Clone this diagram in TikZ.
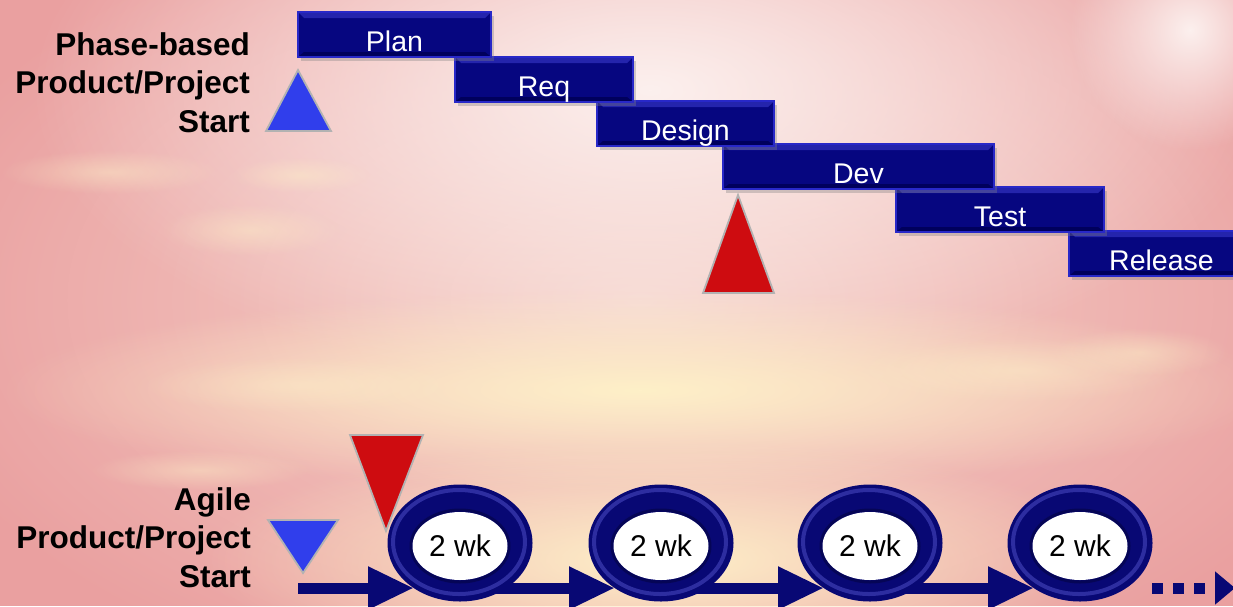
\documentclass[tikz,border=0pt]{standalone}
\usepackage{fontspec}
\setmainfont{Liberation Sans}
\usetikzlibrary{arrows.meta,shapes.geometric,shadows,fadings,backgrounds}

\definecolor{skybase}{RGB}{234,160,160}
\definecolor{skylight}{RGB}{252,240,238}
\definecolor{skycream}{RGB}{254,240,200}
\definecolor{skypeach}{RGB}{246,212,204}
\definecolor{barnavy}{RGB}{6,6,128}
\definecolor{baredge}{RGB}{40,40,200}
\definecolor{barlight}{RGB}{36,36,172}
\definecolor{bardark}{RGB}{0,0,92}
\definecolor{ringnavy}{RGB}{8,8,116}
\definecolor{ringhi}{RGB}{70,70,190}
\definecolor{markblue}{RGB}{48,62,236}
\definecolor{markred}{RGB}{206,12,16}

\tikzfading[name=glow, inner color=transparent!0, outer color=transparent!100]

\begin{document}
\begin{tikzpicture}
      [ x=1pt, y=-1pt,
        phase/.style={rectangle, fill=barnavy, draw=baredge, line width=2pt,
          inner sep=0pt, minimum height=45pt, text height=34pt, text depth=0pt,
          text=white, font=\fontsize{28.5}{34}\selectfont,
          drop shadow={shadow xshift=3pt, shadow yshift=-4pt, opacity=.35},
          path picture={
            \fill[barlight] (path picture bounding box.north west)
              -- (path picture bounding box.north east)
              -- ([xshift=-6pt,yshift=-6pt]path picture bounding box.north east)
              -- ([xshift=6pt,yshift=-6pt]path picture bounding box.north west) -- cycle;
            \fill[bardark] (path picture bounding box.south west)
              -- (path picture bounding box.south east)
              -- ([xshift=-6pt,yshift=5pt]path picture bounding box.south east)
              -- ([xshift=6pt,yshift=5pt]path picture bounding box.south west) -- cycle;
          }},
        wkring/.style={ellipse, fill=ringnavy, inner sep=0pt, outer sep=0pt,
          minimum width=145pt, minimum height=117pt,
          text height=27pt, text depth=0pt, font=\fontsize{30}{36}\selectfont,
          path picture={
            \draw[ringhi, line width=4pt, opacity=.6]
              ([xshift=-1pt,yshift=1pt]path picture bounding box.center)
              ellipse [x radius=66pt, y radius=52pt];
            \draw[black, line width=3pt, opacity=.25]
              ([yshift=-3pt]path picture bounding box.center)
              ellipse [x radius=49pt, y radius=36pt];
            \fill[white] ([yshift=-3pt]path picture bounding box.center)
              ellipse [x radius=47.5pt, y radius=34pt];
          }},
        milestone/.style={draw=black!30, line width=1.8pt, line join=miter},
        sidelbl/.style={align=right, inner sep=0pt,
          font=\fontsize{31.5}{38.5}\selectfont\bfseries},
        flow/.style={draw=ringnavy, line width=11pt,
          -{Triangle[length=46pt,width=40pt]}},
        cloud/.style={skycream, path fading=glow, opacity=.45}
      ]
      \useasboundingbox (0,0) rectangle (1233,606);

      % evening sky
      \begin{scope}[on background layer]
        \fill[skybase] (0,0) rectangle (1233,606);
        \fill[skypeach, path fading=glow] (640,300) ellipse [x radius=760pt, y radius=420pt];
        \fill[skylight, path fading=glow] (650,90) ellipse [x radius=620pt, y radius=300pt];
        \fill[skycream, path fading=glow] (640,390) ellipse [x radius=640pt, y radius=100pt];
        \fill[skycream, path fading=glow] (660,560) ellipse [x radius=460pt, y radius=120pt];
        \fill[skylight, path fading=glow] (1190,30) ellipse [x radius=120pt, y radius=120pt];
        \foreach \cx/\cy/\rx/\ry in {110/172/110/22, 250/230/90/26, 300/175/70/18,
            1020/370/170/32, 1140/352/90/24, 300/385/160/28, 200/470/110/20}
          \fill[cloud] (\cx,\cy) ellipse [x radius=\rx pt, y radius=\ry pt];
      \end{scope}

      % phase-based plan
      \foreach \name/\x/\y/\w/\txt in {release/1068/230/185/Release, test/895/186/208/Test,
          dev/722/143/271/Dev, design/596/100/177/Design, req/454/56/178/Req, plan/297/11/193/Plan}
        \node[phase, minimum width=\w pt, anchor=north west] (\name) at (\x,\y) {\txt};

      \node[sidelbl, anchor=base east] (phaselbl) at (250,132) {Phase-based\\Product/Project\\Start};
      \node[sidelbl, anchor=base east] (agilelbl) at (251,587) {Agile\\Product/Project\\Start};

      \draw[milestone, fill=markblue] (266,131) -- (298,70) -- (331,131) -- cycle;
      \draw[milestone, fill=markred] (703,293) -- (738,195) -- (774,293) -- cycle;
      \draw[milestone, fill=markblue] (268,520) -- (338,520) -- (303,573) -- cycle;
      \draw[milestone, fill=markred] (350,435) -- (423,435) -- (386,531) -- cycle;

      % agile iterations
      \foreach \i/\x in {1/460, 2/661, 3/870, 4/1080}
        \node[wkring] (wk\i) at (\x,543) {2 wk};

      \coordinate (agile) at (298,588);
      \begin{scope}[on background layer]
        \draw[flow] (agile) -- ([xshift=-46pt,yshift=-45pt]wk1.center);
        \foreach \a/\b in {wk1/wk2, wk2/wk3, wk3/wk4}
          \draw[flow] ([yshift=-45pt]\a.center) -- ([xshift=-46pt,yshift=-45pt]\b.center);
        \draw[draw=ringnavy, line width=11pt, dash pattern=on 11pt off 10pt,
              -{Triangle[length=20pt,width=32pt]}]
          ([xshift=72pt,yshift=-45pt]wk4.center) -- ++(83,0);
      \end{scope}
    \end{tikzpicture}
\end{document}
